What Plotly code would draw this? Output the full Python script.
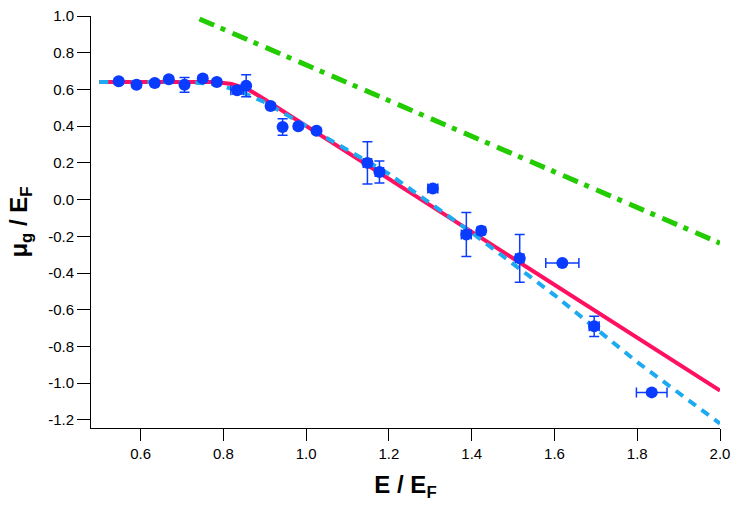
import plotly.graph_objects as go

# measured data points
e_x = [0.547, 0.590, 0.634, 0.668, 0.706, 0.750, 0.784, 0.833, 0.855, 0.914, 0.943, 0.981, 1.025,
       1.148, 1.177, 1.306, 1.387, 1.423, 1.516, 1.619, 1.696, 1.835]
mu_y = [0.645, 0.625, 0.635, 0.655, 0.625, 0.660, 0.640, 0.595, 0.620, 0.510, 0.395, 0.400, 0.375,
        0.200, 0.150, 0.060, -0.190, -0.170, -0.320, -0.345, -0.690, -1.050]
err_y = [0.015, 0.015, 0.015, 0.015, 0.040, 0.015, 0.015, 0.020, 0.060, 0.015, 0.045, 0.015, 0.015,
         0.115, 0.060, 0.020, 0.120, 0.020, 0.130, 0.010, 0.055, 0.010]
err_x = [0.005, 0.005, 0.005, 0.005, 0.005, 0.005, 0.005, 0.015, 0.005, 0.005, 0.005, 0.005, 0.005,
         0.010, 0.010, 0.012, 0.012, 0.008, 0.010, 0.040, 0.012, 0.037]

# solid fit line
fit_x = [0.50, 0.78, 0.82, 0.86, 0.90, 2.00]
fit_y = [0.640, 0.640, 0.630, 0.600, 0.545, -1.040]

# dashed theory line
th_x = [0.50, 0.70, 0.78, 0.84, 0.90, 1.00, 1.20, 1.40, 1.60, 1.80, 2.00]
th_y = [0.640, 0.640, 0.630, 0.590, 0.530, 0.400, 0.140, -0.180, -0.520, -0.885, -1.220]

# dash-dot line
dd_x = [0.742, 2.00]
dd_y = [0.984, -0.237]

x_ticks = [0.6, 0.8, 1.0, 1.2, 1.4, 1.6, 1.8, 2.0]
y_ticks = [1.0, 0.8, 0.6, 0.4, 0.2, 0.0, -0.2, -0.4, -0.6, -0.8, -1.0, -1.2]

fig = go.Figure()
fig.add_trace(go.Scatter(x=dd_x, y=dd_y, mode="lines",
                         line=dict(color="#22CC00", width=5, dash="16px,7px,5px,8px")))
fig.add_trace(go.Scatter(x=fit_x, y=fit_y, mode="lines",
                         line=dict(color="#FF1060", width=4)))
fig.add_trace(go.Scatter(x=th_x, y=th_y, mode="lines",
                         line=dict(color="#1EAAF0", width=4, dash="9px,7px")))
fig.add_trace(go.Scatter(x=e_x, y=mu_y, mode="markers",
                         marker=dict(color="#0A3CFF", size=12),
                         error_y=dict(type="data", array=err_y, color="#0A3CFF", thickness=1.5, width=5),
                         error_x=dict(type="data", array=err_x, color="#0A3CFF", thickness=1.5, width=5)))

font = "Liberation Sans, Arial, sans-serif"
fig.update_layout(
    width=733, height=506,
    margin=dict(l=91, r=13, t=16, b=78),
    paper_bgcolor="white", plot_bgcolor="white",
    showlegend=False,
    font=dict(family=font, size=15, color="black"),
    xaxis=dict(range=[0.48, 2.0], tickvals=x_ticks, ticktext=[f"{v:.1f}" for v in x_ticks],
               automargin=False,
               showgrid=False, zeroline=False, showline=True, linecolor="black", linewidth=1,
               ticks="outside", ticklen=12, tickcolor="black",
               title=dict(text="<b>E / E<sub>F</sub></b>", font=dict(size=24), standoff=15)),
    yaxis=dict(range=[-1.244, 1.0], tickvals=y_ticks, ticktext=[f"{v:.1f}" for v in y_ticks],
               automargin=False,
               showgrid=False, zeroline=False, showline=True, linecolor="black", linewidth=1,
               ticks="outside", ticklen=13, tickcolor="black",
               title=dict(text="<b>μ<sub>g</sub> / E<sub>F</sub></b>", font=dict(size=24), standoff=13)),
)
fig.write_html("out.html", config={"displayModeBar": False},
               post_script="document.body.style.margin='0';document.body.style.overflow='hidden';")
